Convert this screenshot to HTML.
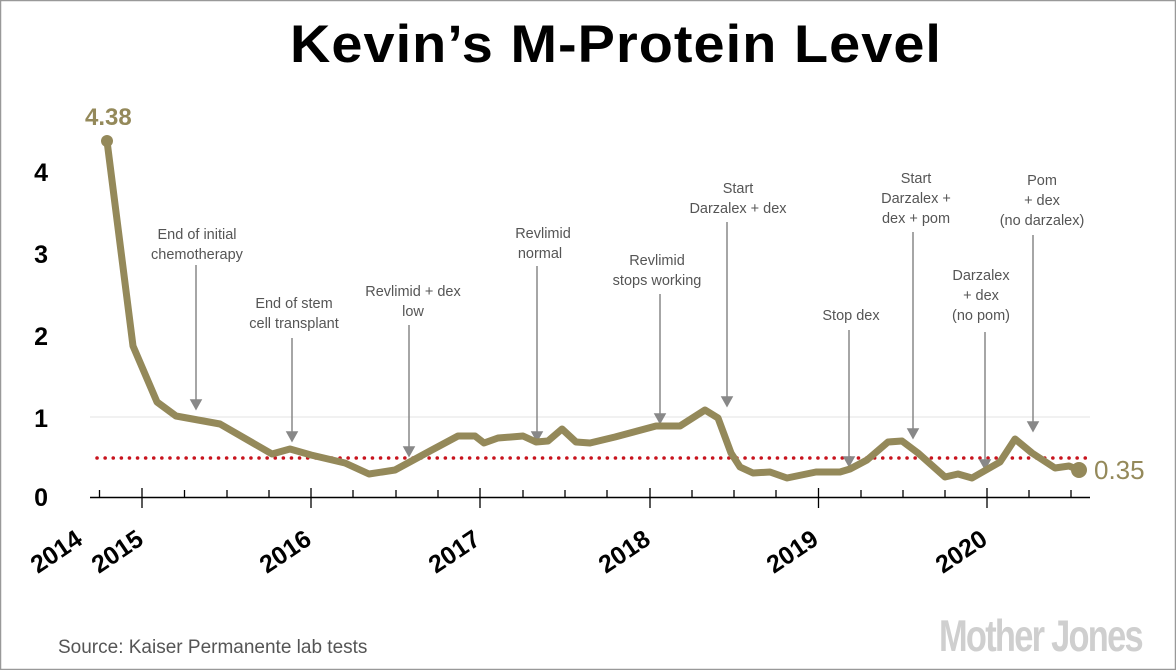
<!DOCTYPE html>
<html><head><meta charset="utf-8"><style>
html,body{margin:0;padding:0;background:#fff}
svg{display:block}
</style></head><body>
<svg width="1176" height="670" viewBox="0 0 1176 670" xmlns="http://www.w3.org/2000/svg" font-family="Liberation Sans, sans-serif">
<rect x="0.5" y="0.5" width="1175" height="669" fill="#fff" stroke="#999" stroke-width="1.5"/>
<text x="616" y="62" text-anchor="middle" font-size="53" font-weight="bold" fill="#000" letter-spacing="1" textLength="652" lengthAdjust="spacingAndGlyphs">Kevin’s M-Protein Level</text>
<g stroke="#e3e3e3" stroke-width="1">
<line x1="90" y1="417" x2="1090" y2="417"/>
</g>
<line x1="97" y1="458" x2="1088" y2="458" stroke="#c8141e" stroke-width="3.5" stroke-dasharray="0.1 8" stroke-linecap="round"/>
<line x1="90" y1="497.5" x2="1090" y2="497.5" stroke="#000" stroke-width="1.5"/>
<g stroke="#000" stroke-width="1.3">
<line x1="99.5" y1="490" x2="99.5" y2="497"/>
<line x1="142" y1="488" x2="142" y2="508"/>
<line x1="184.5" y1="490" x2="184.5" y2="497"/>
<line x1="227" y1="490" x2="227" y2="497"/>
<line x1="269" y1="490" x2="269" y2="497"/>
<line x1="311" y1="488" x2="311" y2="508"/>
<line x1="353" y1="490" x2="353" y2="497"/>
<line x1="396" y1="490" x2="396" y2="497"/>
<line x1="438" y1="490" x2="438" y2="497"/>
<line x1="480" y1="488" x2="480" y2="508"/>
<line x1="523" y1="490" x2="523" y2="497"/>
<line x1="565" y1="490" x2="565" y2="497"/>
<line x1="607" y1="490" x2="607" y2="497"/>
<line x1="650" y1="488" x2="650" y2="508"/>
<line x1="692" y1="490" x2="692" y2="497"/>
<line x1="734" y1="490" x2="734" y2="497"/>
<line x1="776" y1="490" x2="776" y2="497"/>
<line x1="818.5" y1="488" x2="818.5" y2="508"/>
<line x1="861" y1="490" x2="861" y2="497"/>
<line x1="903" y1="490" x2="903" y2="497"/>
<line x1="945" y1="490" x2="945" y2="497"/>
<line x1="987" y1="488" x2="987" y2="508"/>
<line x1="1029" y1="490" x2="1029" y2="497"/>
<line x1="1071" y1="490" x2="1071" y2="497"/>
</g>
<g font-size="25" font-weight="bold" fill="#000" text-anchor="end">
<text x="48" y="181">4</text><text x="48" y="263">3</text><text x="48" y="345">2</text><text x="48" y="427">1</text><text x="48" y="506">0</text>
</g>
<g font-size="25" font-weight="bold" fill="#000" text-anchor="end">
<text transform="translate(84,543) rotate(-34)">2014</text>
<text transform="translate(145,543) rotate(-34)">2015</text>
<text transform="translate(313,543) rotate(-34)">2016</text>
<text transform="translate(482,543) rotate(-34)">2017</text>
<text transform="translate(652,543) rotate(-34)">2018</text>
<text transform="translate(820,543) rotate(-34)">2019</text>
<text transform="translate(989,543) rotate(-34)">2020</text>
</g>
<g stroke="#888" stroke-width="1.5" fill="#888">
<line x1="196" y1="265" x2="196" y2="402"/><path d="M191,400 L201,400 L196,409Z"/>
<line x1="292" y1="338" x2="292" y2="434"/><path d="M287,432 L297,432 L292,441Z"/>
<line x1="409" y1="325" x2="409" y2="449"/><path d="M404,447 L414,447 L409,456Z"/>
<line x1="537" y1="266" x2="537" y2="434"/><path d="M532,432 L542,432 L537,441Z"/>
<line x1="660" y1="294" x2="660" y2="416"/><path d="M655,414 L665,414 L660,423Z"/>
<line x1="727" y1="222" x2="727" y2="399"/><path d="M722,397 L732,397 L727,406Z"/>
<line x1="849" y1="330" x2="849" y2="459"/><path d="M844,457 L854,457 L849,466Z"/>
<line x1="913" y1="232" x2="913" y2="431"/><path d="M908,429 L918,429 L913,438Z"/>
<line x1="985" y1="332" x2="985" y2="462"/><path d="M980,460 L990,460 L985,469Z"/>
<line x1="1033" y1="235" x2="1033" y2="424"/><path d="M1028,422 L1038,422 L1033,431Z"/>
</g>
<g font-size="14.5" fill="#555" text-anchor="middle">
<text x="197" y="239">End of initial</text><text x="197" y="259">chemotherapy</text>
<text x="294" y="308">End of stem</text><text x="294" y="328">cell transplant</text>
<text x="413" y="296">Revlimid + dex</text><text x="413" y="316">low</text>
<text x="543" y="238">Revlimid</text><text x="540" y="258">normal</text>
<text x="657" y="265">Revlimid</text><text x="657" y="285">stops working</text>
<text x="738" y="193">Start</text><text x="738" y="213">Darzalex + dex</text>
<text x="851" y="320">Stop dex</text>
<text x="916" y="183">Start</text><text x="916" y="203">Darzalex +</text><text x="916" y="223">dex + pom</text>
<text x="981" y="280">Darzalex</text><text x="981" y="300">+ dex</text><text x="981" y="320">(no pom)</text>
<text x="1042" y="185">Pom</text><text x="1042" y="205">+ dex</text><text x="1042" y="225">(no darzalex)</text>
</g>
<polyline fill="none" stroke="#94895a" stroke-width="7" stroke-linejoin="round" stroke-linecap="round" points="107,141 133,346 157,402 176,416 220,424 272,454 290,449 311,455 345,463 369,474 395,470 430,451 458,436 475,436 484,443 498,438 523,436 536,442 548,441 562,429 576,442 590,443 615,437 656,426 680,426 705,410 718,418 731,453 740,467 753,473 770,472 787,478 816,472 840,472 850,469 867,460 888,442 902,441 918,453 945,477 958,474 972,478 1000,462 1015,439 1032,453 1055,468 1069,466 1079,470"/>
<circle cx="107" cy="141" r="6" fill="#94895a"/>
<circle cx="1079" cy="470" r="8" fill="#94895a"/>
<text x="85" y="125" font-size="24" font-weight="bold" fill="#94895a">4.38</text>
<text x="1094" y="479" font-size="26" fill="#94895a">0.35</text>
<text x="58" y="653" font-size="19" fill="#555">Source: Kaiser Permanente lab tests</text>
<text transform="translate(939,651) scale(0.86,1.12)" font-size="40" font-weight="bold" fill="#cfcfcf" letter-spacing="-2">Mother Jones</text>
</svg>
</body></html>
